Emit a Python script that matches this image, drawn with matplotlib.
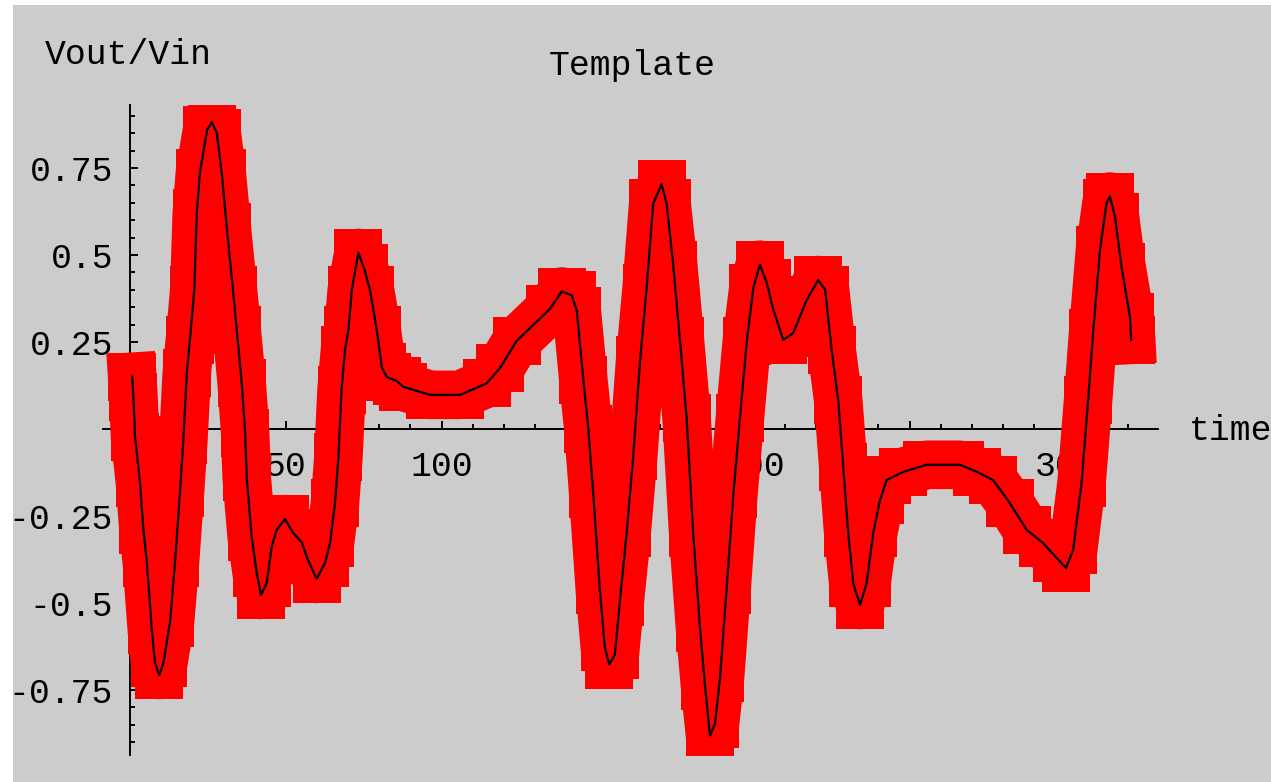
import matplotlib
matplotlib.use("Agg")
import matplotlib.pyplot as plt
from matplotlib.patches import Rectangle
from matplotlib.ticker import MultipleLocator

# Template curve
time = [0.8, 1.2, 1.7, 3.3, 4.4, 5.5, 7.1, 8.1, 9.5, 10.8,
        12.9, 14.5, 16.1, 17.2, 18.3, 19.3, 20.7, 21.5, 22.5, 24.8,
        26.3, 27.9, 29.5, 31.1, 33.1, 34.3, 35.9, 37.0, 37.5, 39.1,
        40.7, 42.1, 43.9, 45.5, 47.1, 49.8, 52.4, 55.1, 57.1, 59.9,
        62.6, 64.2, 65.8, 66.9, 67.9, 69.0, 70.1, 71.2, 73.3, 75.1,
        77.0, 79.2, 80.8, 82.4, 85.6, 87.7, 96.3, 105.9, 114.4, 118.7,
        124.0, 134.7, 138.5, 141.7, 143.3, 145.4, 147.0, 148.6, 150.7, 152.3,
        153.7, 155.5, 157.1, 159.3, 161.4, 163.6, 165.7, 167.8, 170.5, 172.1,
        174.2, 176.4, 178.5, 180.6, 182.8, 184.4, 186.0, 187.6, 189.2, 191.3,
        193.5, 195.6, 197.8, 199.9, 202.0, 204.2, 206.3, 209.5, 212.7, 217.0,
        220.7, 222.9, 225.0, 227.1, 228.7, 230.3, 231.9, 234.1, 236.2, 238.3,
        240.5, 242.6, 248.0, 255.4, 266.1, 271.5, 276.8, 282.1, 287.5, 292.8,
        297.1, 300.1, 302.4, 305.1, 307.2, 308.8, 311.0, 313.1, 314.2, 315.8,
        317.9, 320.6, 321.0]
vout_vin = [0.150, 0.093, -0.022, -0.155, -0.290, -0.385, -0.578, -0.672, -0.707, -0.672,
            -0.557, -0.385, -0.184, -0.032, 0.161, 0.256, 0.40, 0.62, 0.736, 0.859,
            0.882, 0.851, 0.736, 0.580, 0.40, 0.284, 0.132, -0.011, -0.138, -0.310,
            -0.414, -0.477, -0.443, -0.339, -0.290, -0.259, -0.299, -0.325, -0.376, -0.431,
            -0.385, -0.328, -0.213, -0.080, 0.112, 0.227, 0.284, 0.40, 0.506, 0.463,
            0.40, 0.284, 0.178, 0.149, 0.138, 0.121, 0.098, 0.098, 0.131, 0.175,
            0.253, 0.345, 0.395, 0.384, 0.340, 0.142, 0.0, -0.188, -0.463, -0.628,
            -0.677, -0.649, -0.496, -0.298, -0.078, 0.197, 0.406, 0.648, 0.703, 0.648,
            0.472, 0.252, 0.032, -0.298, -0.573, -0.738, -0.881, -0.848, -0.716, -0.463,
            -0.188, 0.032, 0.252, 0.406, 0.472, 0.420, 0.342, 0.256, 0.276, 0.371,
            0.428, 0.40, 0.227, 0.083, -0.108, -0.299, -0.443, -0.506, -0.443, -0.299,
            -0.204, -0.147, -0.123, -0.103, -0.103, -0.123, -0.147, -0.213, -0.290, -0.328,
            -0.371, -0.399, -0.348, -0.155, 0.083, 0.276, 0.514, 0.649, 0.668, 0.610,
            0.466, 0.323, 0.256]

xticks = [50, 100, 150, 200, 250, 300]
xticklabels = ["50", "100", "150", "200", "250", "300"]
yticks = [-0.75, -0.5, -0.25, 0.25, 0.5, 0.75]
yticklabels = ["-0.75", "-0.5", "-0.25", "0.25", "0.5", "0.75"]

W, H = 1271, 782
font = "Liberation Mono"
fs = 25

fig = plt.figure(figsize=(W / 100, H / 100), dpi=100, facecolor="white")
fig.patches.append(Rectangle((13 / W, 0), 1 - 13 / W, 1 - 5 / H,
                             transform=fig.transFigure, facecolor="#cccccc",
                             edgecolor="none", zorder=-10))

ax = fig.add_axes([103 / W, (H - 755) / H, (1158 - 103) / W, (755 - 105) / H])
ax.set_zorder(1)
ax.set_facecolor("none")
ax.set_xlim(-8.56, 329.6)
ax.set_ylim(-0.937, 0.931)

# thick red band, square "brush" like the original
ax.plot(time, vout_vin, color="#ff0000", lw=35, solid_capstyle="projecting",
        solid_joinstyle="round", marker="s", markersize=34,
        markeredgewidth=0, zorder=2)
ax.plot(time, vout_vin, color="black", lw=1.6, zorder=3)

# Mathematica style axes through the origin
for s in ["top", "right"]:
    ax.spines[s].set_visible(False)
ax.spines["left"].set_position(("data", 0))
ax.spines["bottom"].set_position(("data", 0))
for s in ["left", "bottom"]:
    ax.spines[s].set_linewidth(1.4)
    ax.spines[s].set_zorder(0.5)
ax.set_axisbelow(True)

ax.set_xticks(xticks)
ax.set_xticklabels(xticklabels)
ax.set_yticks(yticks)
ax.set_yticklabels(yticklabels)
ax.xaxis.set_minor_locator(MultipleLocator(10))
ax.yaxis.set_minor_locator(MultipleLocator(0.05))
ax.tick_params(which="both", direction="in", color="black", width=1.4)
ax.tick_params(which="major", length=6)
ax.tick_params(which="minor", length=3.5)
ax.tick_params(axis="x", which="major", pad=15)
ax.tick_params(axis="y", which="major", pad=12)
for lab in ax.get_xticklabels() + ax.get_yticklabels():
    lab.set_fontfamily(font)
    lab.set_fontsize(fs)

fig.text(45 / W, 1 - 55 / H, "Vout/Vin", family=font, fontsize=fs,
         ha="left", va="center")
fig.text(632 / W, 1 - 66 / H, "Template", family=font, fontsize=fs,
         ha="center", va="center")
fig.text(1189 / W, 1 - 430 / H, "time", family=font, fontsize=fs,
         ha="left", va="center")

fig.savefig("out.png", dpi=100, facecolor=fig.get_facecolor())
